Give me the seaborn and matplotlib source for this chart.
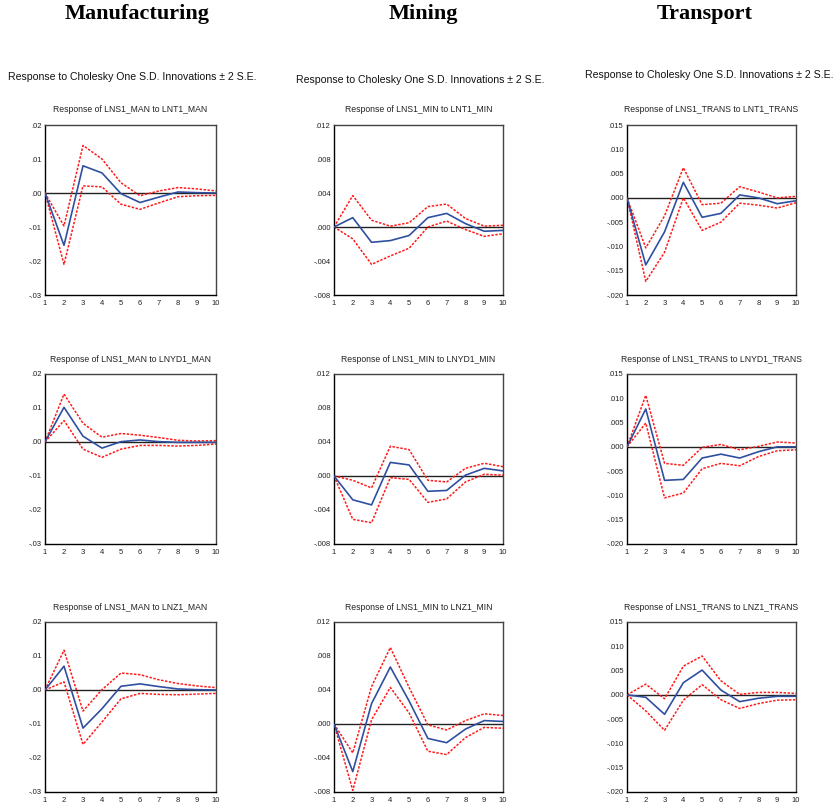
import matplotlib
matplotlib.use("Agg")
import matplotlib.pyplot as plt
import seaborn as sns
import numpy as np
import pandas as pd

sns.set_theme(style="white")
plt.rcParams["font.family"] = ["Liberation Sans Narrow", "Liberation Sans", "DejaVu Sans"]

periods = list(range(1, 11))

sectors = ["Manufacturing", "Mining", "Transport"]
sector_codes = ["MAN", "MIN", "TRANS"]
shocks = ["LNT1", "LNYD1", "LNZ1"]

# Impulse responses (point estimate, upper band, lower band)
man_lnt1 = [0.0, -0.0154, 0.0080, 0.0059, -0.0002, -0.0028, -0.0012, 0.0003, 0.0001, 0.0000]
man_lnt1_hi = [0.0, -0.0097, 0.0140, 0.0100, 0.0030, -0.0008, 0.0006, 0.0016, 0.0012, 0.0006]
man_lnt1_lo = [0.0, -0.0210, 0.0021, 0.0018, -0.0033, -0.0048, -0.0029, -0.0011, -0.0008, -0.0007]

min_lnt1 = [0.0, 0.0011, -0.0018, -0.0016, -0.0010, 0.0011, 0.0016, 0.0004, -0.0005, -0.0004]
min_lnt1_hi = [0.0, 0.0037, 0.0008, 0.0001, 0.0005, 0.0024, 0.0027, 0.0010, 0.0001, 0.0002]
min_lnt1_lo = [0.0, -0.0014, -0.0044, -0.0034, -0.0025, 0.0000, 0.0007, -0.0003, -0.0011, -0.0008]

trans_lnt1 = [0.0, -0.0138, -0.0070, 0.0032, -0.0040, -0.0032, 0.0006, 0.0000, -0.0012, -0.0006]
trans_lnt1_hi = [0.0, -0.0103, -0.0037, 0.0062, -0.0014, -0.0011, 0.0023, 0.0012, 0.0000, 0.0003]
trans_lnt1_lo = [0.0, -0.0172, -0.0112, 0.0000, -0.0067, -0.0050, -0.0011, -0.0015, -0.0021, -0.0010]

man_lnyd1 = [0.0, 0.0102, 0.0017, -0.0018, 0.0001, 0.0006, 0.0001, -0.0001, -0.0001, -0.0001]
man_lnyd1_hi = [0.0, 0.0141, 0.0055, 0.0014, 0.0025, 0.0020, 0.0013, 0.0005, 0.0003, 0.0004]
man_lnyd1_lo = [0.0, 0.0063, -0.0021, -0.0045, -0.0021, -0.0010, -0.0010, -0.0012, -0.0010, -0.0006]

min_lnyd1 = [0.0, -0.0028, -0.0034, 0.0016, 0.0013, -0.0018, -0.0017, 0.0001, 0.0009, 0.0006]
min_lnyd1_hi = [0.0, -0.0005, -0.0014, 0.0035, 0.0031, -0.0005, -0.0007, 0.0009, 0.0015, 0.0011]
min_lnyd1_lo = [0.0, -0.0051, -0.0055, -0.0002, -0.0004, -0.0031, -0.0027, -0.0007, 0.0002, 0.0001]

trans_lnyd1 = [0.0, 0.0078, -0.0069, -0.0067, -0.0023, -0.0015, -0.0023, -0.0010, 0.0000, 0.0000]
trans_lnyd1_hi = [0.0, 0.0106, -0.0034, -0.0038, -0.0001, 0.0005, -0.0006, 0.0001, 0.0010, 0.0008]
trans_lnyd1_lo = [0.0, 0.0049, -0.0105, -0.0095, -0.0045, -0.0034, -0.0039, -0.0020, -0.0008, -0.0006]

man_lnz1 = [0.0, 0.0070, -0.0112, -0.0055, 0.0011, 0.0018, 0.0010, 0.0003, 0.0001, 0.0000]
man_lnz1_hi = [0.0, 0.0117, -0.0062, 0.0001, 0.0050, 0.0045, 0.0030, 0.0019, 0.0012, 0.0007]
man_lnz1_lo = [0.0, 0.0024, -0.0160, -0.0094, -0.0026, -0.0010, -0.0013, -0.0014, -0.0012, -0.0010]

min_lnz1 = [0.0, -0.0056, 0.0024, 0.0067, 0.0027, -0.0017, -0.0022, -0.0006, 0.0004, 0.0003]
min_lnz1_hi = [0.0, -0.0034, 0.0044, 0.0090, 0.0043, -0.0001, -0.0007, 0.0004, 0.0012, 0.0010]
min_lnz1_lo = [0.0, -0.0078, 0.0005, 0.0043, 0.0013, -0.0032, -0.0036, -0.0016, -0.0004, -0.0005]

trans_lnz1 = [0.0, -0.0005, -0.0040, 0.0025, 0.0051, 0.0010, -0.0014, -0.0007, -0.0003, -0.0003]
trans_lnz1_hi = [0.0, 0.0022, -0.0008, 0.0059, 0.0080, 0.0029, 0.0001, 0.0005, 0.0005, 0.0003]
trans_lnz1_lo = [0.0, -0.0033, -0.0073, -0.0011, 0.0021, -0.0010, -0.0028, -0.0018, -0.0011, -0.0010]

responses = {
    ("MAN", "LNT1"): (man_lnt1, man_lnt1_hi, man_lnt1_lo),
    ("MIN", "LNT1"): (min_lnt1, min_lnt1_hi, min_lnt1_lo),
    ("TRANS", "LNT1"): (trans_lnt1, trans_lnt1_hi, trans_lnt1_lo),
    ("MAN", "LNYD1"): (man_lnyd1, man_lnyd1_hi, man_lnyd1_lo),
    ("MIN", "LNYD1"): (min_lnyd1, min_lnyd1_hi, min_lnyd1_lo),
    ("TRANS", "LNYD1"): (trans_lnyd1, trans_lnyd1_hi, trans_lnyd1_lo),
    ("MAN", "LNZ1"): (man_lnz1, man_lnz1_hi, man_lnz1_lo),
    ("MIN", "LNZ1"): (min_lnz1, min_lnz1_hi, min_lnz1_lo),
    ("TRANS", "LNZ1"): (trans_lnz1, trans_lnz1_hi, trans_lnz1_lo),
}

# y-axis ticks per sector
yticks = {
    "MAN": [0.02, 0.01, 0.00, -0.01, -0.02, -0.03],
    "MIN": [0.012, 0.008, 0.004, 0.000, -0.004, -0.008],
    "TRANS": [0.015, 0.010, 0.005, 0.000, -0.005, -0.010, -0.015, -0.020],
}
ytick_labels = {
    "MAN": [".02", ".01", ".00", "-.01", "-.02", "-.03"],
    "MIN": [".012", ".008", ".004", ".000", "-.004", "-.008"],
    "TRANS": [".015", ".010", ".005", ".000", "-.005", "-.010", "-.015", "-.020"],
}

W, H = 839, 809
fig = plt.figure(figsize=(W / 100, H / 100), dpi=100)
fig.patch.set_facecolor("white")

col_left = [45, 334, 627]
col_w = [171, 169, 169]
row_top = [125, 374, 622]
row_h = 170

blue = "#2f4f9f"
red = "#ff1a1a"

header_x = [132, 420, 709]
header_y = [77, 80, 75]
sector_x = [137, 423, 705]

for ci, code in enumerate(sector_codes):
    fig.text(sector_x[ci] / W, 1 - 14 / H, sectors[ci], ha="center", va="center",
             fontsize=16, fontweight="bold", family=["Liberation Serif"], color="black")
    fig.text(header_x[ci] / W, 1 - header_y[ci] / H,
             "Response to Cholesky One S.D. Innovations \u00b1 2 S.E.",
             ha="center", va="center", fontsize=7.6, color="#111111")
    for ri, shock in enumerate(shocks):
        left = col_left[ci] / W
        bottom = 1 - (row_top[ri] + row_h) / H
        ax = fig.add_axes([left, bottom, col_w[ci] / W, row_h / H])
        mid, hi, lo = responses[(code, shock)]
        df = pd.DataFrame({"period": periods, "mid": mid, "hi": hi, "lo": lo})
        ax.axhline(0, color="#222222", lw=1.0, zorder=1)
        sns.lineplot(data=df, x="period", y="hi", ax=ax, color=red, lw=1.1,
                     linestyle=(0, (1.6, 1.0)), zorder=2)
        sns.lineplot(data=df, x="period", y="lo", ax=ax, color=red, lw=1.1,
                     linestyle=(0, (1.6, 1.0)), zorder=2)
        sns.lineplot(data=df, x="period", y="mid", ax=ax, color=blue, lw=1.2, zorder=3)
        ax.set_xlim(1, 10)
        yt = yticks[code]
        ax.set_ylim(min(yt), max(yt))
        ax.set_yticks(yt)
        ax.set_yticklabels(ytick_labels[code])
        ax.set_xticks(periods)
        ax.set_xticklabels([str(p) for p in periods])
        ax.set_xlabel("")
        ax.set_ylabel("")
        ax.tick_params(axis="both", which="both", direction="out", length=2, width=0.8,
                       labelsize=5.5, colors="black", labelcolor="#222222")
        ax.tick_params(axis="x", pad=1.5)
        ax.tick_params(axis="y", pad=0.5)
        for name, s in ax.spines.items():
            s.set_visible(True)
            s.set_color("black" if name in ("left", "bottom") else "#444444")
            s.set_linewidth(1.0)
        ax.set_title(f"Response of LNS1_{code} to {shock}_{code}", fontsize=6.2,
                     color="#222222", pad=9)

fig.savefig("out.png", dpi=100, facecolor="white")
